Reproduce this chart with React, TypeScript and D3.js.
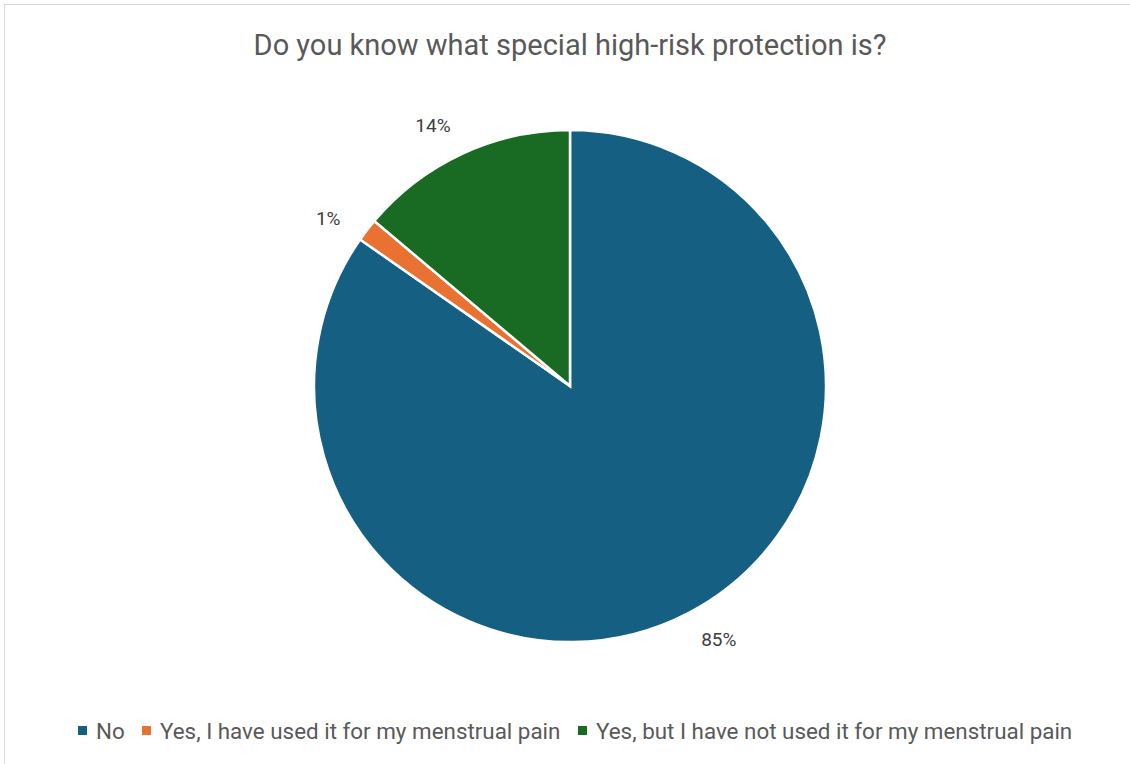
import React from "react";
import * as d3 from "d3";

const categories = [
  "No",
  "Yes, I have used it for my menstrual pain",
  "Yes, but I have not used it for my menstrual pain",
];
const values = [84.7, 1.45, 13.85];
const colors = ["#156082", "#E97132", "#196B24"];
const title = "Do you know what special high-risk protection is?";

const W = 1130;
const H = 764;
const cx = 570;
const cy = 386;
const R = 256;
const FONT = "Roboto, 'Open Sans', sans-serif";

export default function App() {
  const total = d3.sum(values);
  const pie = d3
    .pie<number>()
    .sort(null)
    .value((d) => d);
  const arcs = pie(values);
  const arc = d3.arc<d3.PieArcDatum<number>>().innerRadius(0).outerRadius(R);
  const labelR = 294;
  const angOff = -0.05;

  const legendItems = [
    { x: 78, label: categories[0], color: colors[0] },
    { x: 142, label: categories[1], color: colors[1] },
    { x: 578, label: categories[2], color: colors[2] },
  ];

  return (
    <svg
      width={W}
      height={H}
      style={{ position: "absolute", left: 0, top: 0, background: "#fff" }}
      fontFamily={FONT}
    >
      <rect x={4.5} y={4.5} width={W + 20} height={H + 20} fill="#fff" stroke="#d9d9d9" strokeWidth={1} />
      <text x={cx} y={55} textAnchor="middle" fontSize={29} fill="#595959">
        {title}
      </text>
      <g transform={`translate(${cx},${cy})`}>
        {arcs.map((a, i) => (
          <path key={i} d={arc(a) || ""} fill={colors[i]} stroke="#fff" strokeWidth={2.5} />
        ))}
        {arcs.map((a, i) => {
          const mid = (a.startAngle + a.endAngle) / 2 + angOff;
          const lx = labelR * Math.sin(mid);
          const ly = -labelR * Math.cos(mid);
          return (
            <text
              key={"l" + i}
              x={lx}
              y={ly}
              textAnchor="middle"
              dominantBaseline="central"
              fontSize={19}
              fill="#404040"
            >
              {Math.round((a.data / total) * 100)}%
            </text>
          );
        })}
      </g>
      <g>
        {legendItems.map((it, i) => (
          <g key={i} transform={`translate(${it.x},731)`}>
            <rect x={0} y={-5} width={9} height={9} fill={it.color} />
            <text x={18} y={0} dominantBaseline="central" fontSize={22.4} fill="#595959">
              {it.label}
            </text>
          </g>
        ))}
      </g>
    </svg>
  );
}
